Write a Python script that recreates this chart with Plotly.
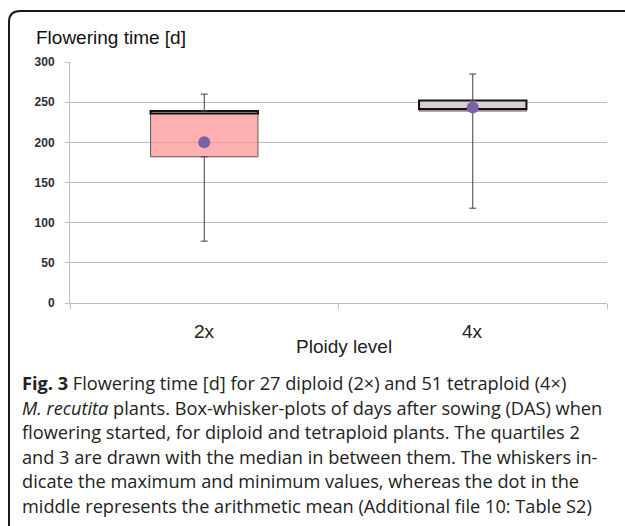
import plotly.graph_objects as go

# ---- data ----
categories = ["2x", "4x"]
minimum = [77, 118]
q1 = [182, 239]
median = [236, 241.5]
q3 = [239, 252]
maximum = [260, 285]
mean = [200, 243.5]

y_ticks = [0, 50, 100, 150, 200, 250, 300]

caption_lines = [
    "<b>Fig. 3</b> Flowering time [d] for 27 diploid (2×) and 51 tetraploid (4×)",
    "<i>M. recutita</i> plants. Box-whisker-plots of days after sowing (DAS) when",
    "flowering started, for diploid and tetraploid plants. The quartiles 2",
    "and 3 are drawn with the median in between them. The whiskers in-",
    "dicate the maximum and minimum values, whereas the dot in the",
    "middle represents the arithmetic mean (Additional file 10: Table S2)",
]

# ---- layout geometry (pixels) ----
W, H = 625, 526
L, R, T, B = 70, 607, 62, 303  # plot area


def px(x):
    return (x - L) / (R - L)


def py(y):
    return (B - y) / (B - T)


fig = go.Figure()

# lower box (Q1 -> median)
fig.add_trace(go.Bar(
    x=categories, y=[m - a for m, a in zip(median, q1)], base=q1,
    width=0.4, marker=dict(color="rgba(255,140,140,0.68)",
                           line=dict(color="#5a5a5a", width=1)),
    hoverinfo="skip", showlegend=False,
))
# upper box (median -> Q3)
fig.add_trace(go.Bar(
    x=categories, y=[b - m for b, m in zip(q3, median)], base=median,
    width=0.4, marker=dict(color="#d2d2d2", line=dict(color="#111111", width=2)),
    hoverinfo="skip", showlegend=False,
))
# upper whisker
fig.add_trace(go.Scatter(
    x=categories, y=q3, mode="markers", marker=dict(size=1, color="rgba(0,0,0,0)"),
    error_y=dict(type="data", symmetric=False,
                 array=[mx - b for mx, b in zip(maximum, q3)],
                 arrayminus=[0, 0], color="#404040", thickness=1, width=3.5),
    hoverinfo="skip", showlegend=False,
))
# lower whisker
fig.add_trace(go.Scatter(
    x=categories, y=q1, mode="markers", marker=dict(size=1, color="rgba(0,0,0,0)"),
    error_y=dict(type="data", symmetric=False, array=[0, 0],
                 arrayminus=[a - mn for a, mn in zip(q1, minimum)],
                 color="#404040", thickness=1, width=3.5),
    hoverinfo="skip", showlegend=False,
))
# mean dots
fig.add_trace(go.Scatter(
    x=categories, y=mean, mode="markers",
    marker=dict(size=12, color="#7b62a8"),
    hoverinfo="skip", showlegend=False,
))

fig.update_layout(
    width=W, height=H,
    margin=dict(l=L, r=W - R, t=T, b=H - B, pad=0),
    paper_bgcolor="white", plot_bgcolor="white",
    barmode="overlay",
    showlegend=False,
    font=dict(family="Liberation Sans, Arial, sans-serif", color="#222"),
)

fig.update_yaxes(
    range=[0, 300], tickvals=y_ticks, showgrid=True, gridcolor="#bfbfbf", gridwidth=1,
    showline=True, linecolor="#bfbfbf", linewidth=1, ticks="outside", ticklen=4,
    tickcolor="#bfbfbf", zeroline=False,
    tickfont=dict(family="Liberation Sans, Arial", size=12, color="#2e2e2e", weight="bold"),
    ticklabelstandoff=8,
)
fig.update_xaxes(
    type="category", categoryorder="array", categoryarray=categories,
    range=[-0.5, 1.5], showline=True, linecolor="#bfbfbf", linewidth=1,
    ticks="outside", tickson="boundaries", ticklen=5, tickcolor="#bfbfbf",
    showgrid=False, showticklabels=False,
)

annotations = []
# category labels
for i, c in enumerate(categories):
    annotations.append(dict(
        x=c, xref="x", y=py(331), yref="paper", text=c, showarrow=False,
        xanchor="center", yanchor="middle",
        font=dict(family="Liberation Sans, Arial", size=19, color="#222"),
    ))
annotations.append(dict(
    x=px(344), xref="paper", y=py(346), yref="paper", text="Ploidy level",
    showarrow=False, xanchor="center", yanchor="middle",
    font=dict(family="Liberation Sans, Arial", size=19, color="#222"),
))
annotations.append(dict(
    x=px(34), xref="paper", y=py(38), yref="paper", text="Flowering time [d]",
    showarrow=False, xanchor="left", yanchor="middle",
    font=dict(family="Liberation Sans, Arial", size=19, color="#111"),
))
for i, line in enumerate(caption_lines):
    annotations.append(dict(
        x=px(20), xref="paper", y=py(383 + 24.6 * i), yref="paper", text=line,
        showarrow=False, xanchor="left", yanchor="middle",
        font=dict(family="Open Sans, sans-serif", size=18.2, color="#222"),
    ))
fig.update_layout(annotations=annotations)

# rounded frame (left + top)
r = 11
x0, y0 = 9, 11
path = (f"M {px(x0)},{py(H + 5)} L {px(x0)},{py(y0 + r)} "
        f"Q {px(x0)},{py(y0)} {px(x0 + r)},{py(y0)} L {px(W + 5)},{py(y0)}")
fig.add_shape(type="path", path=path, xref="paper", yref="paper",
              line=dict(color="#1a1a1a", width=2), layer="above")

fig.write_html("out.html", config={"displayModeBar": False},
               post_script="document.body.style.margin='0';")
